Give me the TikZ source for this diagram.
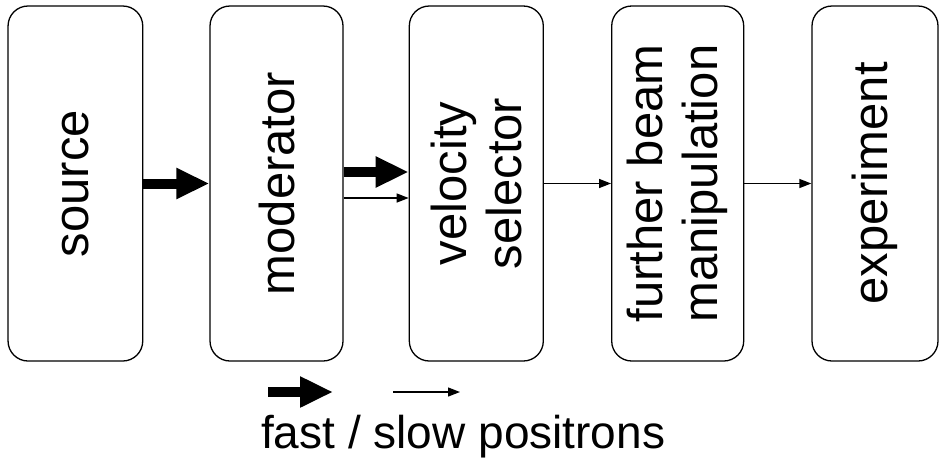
\documentclass[tikz,border=0pt]{standalone}
\usepackage{fontspec}
\setmainfont{Liberation Sans}
\usetikzlibrary{arrows.meta}

\begin{document}
\begin{tikzpicture}[x=1pt,y=-1pt,
  stage/.style={draw, line width=1.3pt, rounded corners=20pt,
    minimum height=355pt, inner sep=0pt},
  stagetext/.style={rotate=90, align=center, inner sep=0pt,
    font=\fontsize{49}{55}\selectfont},
  fastbeam/.style={line width=10pt, -{Triangle[length=33pt,width=29pt]}},
  slowbeam/.style={line width=1.3pt, -{Triangle[length=12pt,width=9pt]}}]

  \useasboundingbox (0,0) rectangle (939,459);

  % beamline stages
  \node[stage, minimum width=134.7pt] (src) at (75.4,183.5) {};
  \node[stage, minimum width=133pt]   (mod) at (276.5,183.5) {};
  \node[stage, minimum width=134pt]   (vel) at (476.3,183.5) {};
  \node[stage, minimum width=132pt]   (fur) at (677.7,183.5) {};
  \node[stage, minimum width=126pt]   (exp) at (875,183.5) {};

  \node[stagetext] (srcL) at (src) {source};
  \node[stagetext] (modL) at (mod) {moderator};
  \node[stagetext] (velL) at (vel) {velocity\\selector};
  \node[stagetext] (furL) at (fur) {further beam\\manipulation};
  \node[stagetext] (expL) at (exp) {experiment};

  % beam between the stages
  \draw[fastbeam] (src.east) -- (mod.west);
  \draw[fastbeam] ([yshift=11.5pt]mod.east) -- ([yshift=11.5pt]vel.west);
  \draw[slowbeam] ([yshift=-14.5pt]mod.east) -- ([yshift=-14.5pt]vel.west);
  \draw[slowbeam] (vel.east) -- (fur.west);
  \draw[slowbeam] (fur.east) -- (exp.west);

  % legend
  \coordinate (fastA) at (268,392);
  \coordinate (fastB) at (333,392);
  \coordinate (slowA) at (393,392);
  \coordinate (slowB) at (460,392);
  \draw[fastbeam] (fastA) -- (fastB);
  \draw[slowbeam] (slowA) -- (slowB);
  \node[anchor=base west, inner sep=0pt, font=\fontsize{46}{52}\selectfont]
    (legend) at (261,448) {fast / slow positrons};
\end{tikzpicture}
\end{document}
